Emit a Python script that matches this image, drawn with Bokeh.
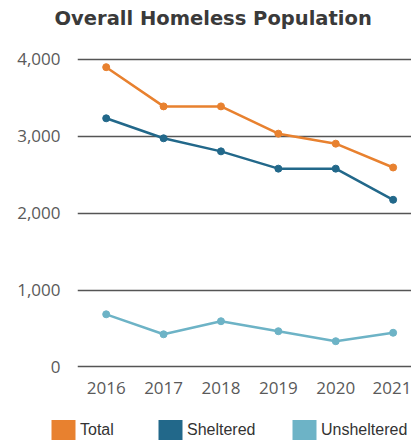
from bokeh.plotting import figure
from bokeh.layouts import column
from bokeh.models import (Range1d, FixedTicker, NumeralTickFormatter, Legend, LegendItem, Title)
from bokeh.embed import file_html
from bokeh.resources import INLINE

years = [2016, 2017, 2018, 2019, 2020, 2021]
total = [3900, 3390, 3390, 3035, 2905, 2595]
sheltered = [3235, 2975, 2805, 2580, 2580, 2175]
unsheltered = [685, 425, 595, 465, 335, 445]
y_ticks = [0, 1000, 2000, 3000, 4000]

series_names = ["Total", "Sheltered", "Unsheltered"]
series_colors = ["#E8812F", "#22688A", "#6DB3C6"]
chart_title = "Overall Homeless Population"


def blank(height):
    f = figure(width=411, height=height, output_backend="svg", toolbar_location=None,
               x_axis_type=None, y_axis_type=None, frame_align=False,
               min_border_left=0, min_border_right=0, min_border_top=0, min_border_bottom=0)
    f.outline_line_color = None
    f.xgrid.visible = False
    f.ygrid.visible = False
    return f


# --- title strip ---
t = blank(44)
t.title = Title(text=chart_title, align="left", offset=54,
                text_font="DejaVu Sans", text_font_style="bold", text_font_size="19.5px",
                text_color="#3a3a3a", standoff=8)

# --- main chart ---
p = figure(width=411, height=361, output_backend="svg", toolbar_location=None,
           frame_align=False,
           x_range=Range1d(2015.5, 2021.32), y_range=Range1d(-20, 4117),
           min_border_left=77, min_border_right=0, min_border_top=6, min_border_bottom=37)
p.outline_line_color = None
p.xgrid.visible = False
p.ygrid.grid_line_color = "#555555"
p.ygrid.grid_line_width = 1.5

for ax in (p.xaxis[0], p.yaxis[0]):
    ax.axis_line_color = None
    ax.major_tick_line_color = None
    ax.minor_tick_line_color = None
    ax.major_label_text_font = "Open Sans"
    ax.major_label_text_font_size = "17px"
    ax.major_label_text_color = "#5a5a5a"

p.xaxis.ticker = FixedTicker(ticks=years)
p.xaxis.major_label_standoff = 7
p.yaxis.ticker = FixedTicker(ticks=y_ticks)
p.yaxis.formatter = NumeralTickFormatter(format="0,0")
p.yaxis.major_label_standoff = 11

for vals, color in zip([total, sheltered, unsheltered], series_colors):
    p.line(years, vals, line_color=color, line_width=2.5)
    p.scatter(years, vals, size=7, fill_color=color, line_color=color)

# --- legend strip ---
lf = blank(37)
legend_x = [48, 155, 289]
for name, color, lx in zip(series_names, series_colors, legend_x):
    r = lf.quad(top=[float("nan")], bottom=[float("nan")], left=[float("nan")], right=[float("nan")],
                fill_color=color, line_color=None)
    lg = Legend(items=[LegendItem(label=name, renderers=[r])], location=(lx, 0),
                orientation="horizontal", padding=0, margin=0, spacing=0,
                glyph_width=30, glyph_height=25, label_height=25, label_standoff=2,
                label_text_font="Liberation Sans", label_text_font_size="16px",
                label_text_color="#333333", border_line_color=None,
                background_fill_alpha=0)
    lf.add_layout(lg, "center")

layout = column(t, p, lf, spacing=0)
open("out.html", "w").write(file_html(layout, INLINE))
